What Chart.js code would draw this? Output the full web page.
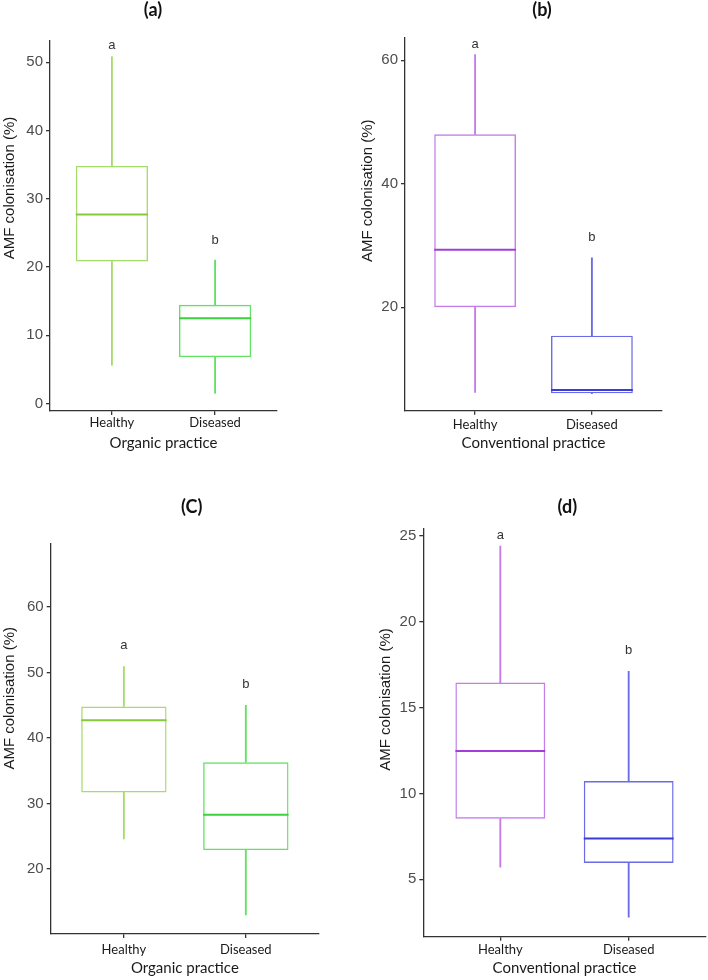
<!DOCTYPE html>
<html><head><meta charset="utf-8">
<script src="https://cdn.jsdelivr.net/npm/chart.js@4.4.1/dist/chart.umd.min.js"></script>
<style>
html,body{margin:0;padding:0;background:#fff;}
body{width:708px;height:980px;position:relative;overflow:hidden;}
canvas{position:absolute;}
</style></head><body>
<canvas id="ca" width="354" height="460" style="left:0;top:0"></canvas>
<canvas id="cb" width="354" height="460" style="left:354px;top:0"></canvas>
<canvas id="cc" width="354" height="500" style="left:0;top:480px"></canvas>
<canvas id="cd" width="354" height="500" style="left:354px;top:480px"></canvas>
<script>
// ---------- data ----------
const categories = ['Healthy', 'Diseased'];
const letters = ['a', 'b'];
const yTitle = 'AMF colonisation (%)';

// (a) Organic practice
const aMin = [5.6, 1.5];
const aQ1 = [20.8, 6.8];
const aMed = [27.7, 12.5];
const aQ3 = [34.8, 14.45];
const aMax = [50.8, 21.0];
const aLetterY = [52.4, 23.9];
const aTicks = [0, 10, 20, 30, 40, 50];

// (b) Conventional practice
const bMin = [6.2, 6.0];
const bQ1 = [20.0, 6.07];
const bMed = [29.3, 6.6];
const bQ3 = [48.0, 15.4];
const bMax = [60.9, 28.0];
const bLetterY = [62.6, 31.3];
const bTicks = [20, 40, 60];

// (C) Organic practice
const cMin = [24.6, 13.0];
const cQ1 = [31.7, 22.9];
const cMed = [42.7, 28.3];
const cQ3 = [44.8, 36.3];
const cMax = [50.9, 45.0];
const cLetterY = [54.1, 48.2];
const cTicks = [20, 30, 40, 50, 60];

// (d) Conventional practice
const dMin = [5.7, 2.8];
const dQ1 = [8.53, 5.95];
const dMed = [12.47, 7.38];
const dQ3 = [16.45, 10.72];
const dMax = [24.4, 17.1];
const dLetterY = [25.04, 18.33];
const dTicks = [5, 10, 15, 20, 25];

// ---------- styles ----------
const organic = {box: ['#a6dc6a', '#62e262'], med: ['#86c93a', '#3dd13d']};
const conventional = {box: ['#c37ce9', '#6b6be6'], med: ['#a13fd8', '#3b3bd8']};

const panels = [
  {id: 'ca', title: '(a)', xTitle: 'Organic practice', pal: organic,
   min: aMin, q1: aQ1, med: aMed, q3: aQ3, max: aMax, letterY: aLetterY, ticks: aTicks,
   yMin: -1.1, yMax: 53.1,
   lay: {top: 41, right: 77, yw: 50, xh: 49, xpad: 0.5, xtb: 8, tx: 153, ty: 10.5, yx: 9.5, yy: 188}},
  {id: 'cb', title: '(b)', xTitle: 'Conventional practice', pal: conventional,
   min: bMin, q1: bQ1, med: bMed, q3: bQ3, max: bMax, letterY: bLetterY, ticks: bTicks,
   yMin: 3.25, yMax: 63.6,
   lay: {top: 38, right: 46, yw: 51, xh: 49.3, xpad: 2.4, xtb: 8, tx: 188, ty: 10.5, yx: 13.7, yy: 190.8}},
  {id: 'cc', title: '(C)', xTitle: 'Organic practice', pal: organic,
   min: cMin, q1: cQ1, med: cMed, q3: cQ3, max: cMax, letterY: cLetterY, ticks: cTicks,
   yMin: 10.1, yMax: 69.7,
   lay: {top: 63.3, right: 35, yw: 50.7, xh: 46, xpad: 4, xtb: 3, tx: 191.7, ty: 26.7, yx: 9.7, yy: 218.3}},
  {id: 'cd', title: '(d)', xTitle: 'Conventional practice', pal: conventional,
   min: dMin, q1: dQ1, med: dMed, q3: dQ3, max: dMax, letterY: dLetterY, ticks: dTicks,
   yMin: 1.66, yMax: 25.43,
   lay: {top: 48.3, right: 2.3, yw: 69.3, xh: 43.3, xpad: 1.4, xtb: 3, tx: 213.3, ty: 26.7, yx: 32, yy: 219.5}}
];

function makeAnnot(p) {
  return {
    id: 'annot_' + p.id,
    afterDatasetsDraw(chart) {
      const ctx = chart.ctx, xs = chart.scales.x, ys = chart.scales.y;
      const meta = chart.getDatasetMeta(0);
      ctx.save();
      meta.data.forEach((el, i) => {
        const y = ys.getPixelForValue(p.med[i]);
        ctx.strokeStyle = p.pal.med[i];
        ctx.lineWidth = 2;
        ctx.beginPath();
        ctx.moveTo(el.x - el.width / 2, y);
        ctx.lineTo(el.x + el.width / 2, y);
        ctx.stroke();
      });
      ctx.fillStyle = '#333';
      ctx.font = '13px "Liberation Sans", Arial, sans-serif';
      ctx.textAlign = 'center';
      ctx.textBaseline = 'middle';
      letters.forEach((t, i) => ctx.fillText(t, xs.getPixelForValue(i + 1), ys.getPixelForValue(p.letterY[i])));
      ctx.fillStyle = '#111';
      ctx.font = 'bold 18px Lato, "Open Sans", sans-serif';
      ctx.fillText(p.title, p.lay.tx, p.lay.ty);
      ctx.save();
      ctx.translate(p.lay.yx, p.lay.yy);
      ctx.rotate(-Math.PI / 2);
      ctx.font = '15px "Liberation Sans", Arial, sans-serif';
      ctx.fillStyle = '#1a1a1a';
      ctx.fillText(yTitle, 0, 0);
      ctx.restore();
      ctx.restore();
    }
  };
}

function makePanel(p) {
  const box = categories.map((c, i) => ({x: i + 1, y: [p.q1[i], p.q3[i]]}));
  const wLo = categories.map((c, i) => ({x: i + 1, y: [p.min[i], p.q1[i]]}));
  const wHi = categories.map((c, i) => ({x: i + 1, y: [p.q3[i], p.max[i]]}));
  new Chart(document.getElementById(p.id), {
    type: 'bar',
    data: {datasets: [
      {data: box, backgroundColor: 'rgba(0,0,0,0)', borderColor: p.pal.box, borderWidth: 1.4,
       borderSkipped: false, grouped: false, categoryPercentage: 1, barPercentage: 0.7},
      {data: wLo, backgroundColor: p.pal.box, borderWidth: 0, grouped: false, barThickness: 1.2},
      {data: wHi, backgroundColor: p.pal.box, borderWidth: 0, grouped: false, barThickness: 1.2}
    ]},
    options: {
      responsive: false, animation: false, devicePixelRatio: 1,
      layout: {padding: {top: p.lay.top, right: p.lay.right, left: 0, bottom: 0}},
      plugins: {legend: {display: false}, tooltip: {enabled: false}},
      scales: {
        x: {
          type: 'linear', min: 0.4, max: 2.6, offset: false, bounds: 'data',
          afterBuildTicks: s => { s.ticks = categories.map((c, i) => ({value: i + 1})); },
          afterFit: s => { s.height = p.lay.xh; },
          ticks: {callback: v => categories[v - 1] || '', font: {family: 'Lato, "Open Sans", sans-serif', size: 13},
                  color: '#1a1a1a', padding: p.lay.xpad, maxRotation: 0, autoSkip: false},
          grid: {display: true, offset: false, drawOnChartArea: false, drawTicks: true, tickLength: 4, color: '#333', lineWidth: 1.3},
          border: {display: true, color: '#333', width: 1.3},
          title: {display: true, text: p.xTitle, font: {family: 'Lato, "Open Sans", sans-serif', size: 15},
                  color: '#1a1a1a', padding: {top: 0, bottom: p.lay.xtb}}
        },
        y: {
          type: 'linear', min: p.yMin, max: p.yMax, bounds: 'data',
          afterBuildTicks: s => { s.ticks = p.ticks.map(v => ({value: v})); },
          afterFit: s => { s.width = p.lay.yw; },
          ticks: {font: {family: '"Liberation Sans", Arial, sans-serif', size: 15}, color: '#4d4d4d', padding: 3},
          grid: {display: true, offset: false, drawOnChartArea: false, drawTicks: true, tickLength: 4, color: '#333', lineWidth: 1.3},
          border: {display: true, color: '#333', width: 1.3}
        }
      }
    },
    plugins: [makeAnnot(p)]
  });
}

panels.forEach(makePanel);
</script>
</body></html>
